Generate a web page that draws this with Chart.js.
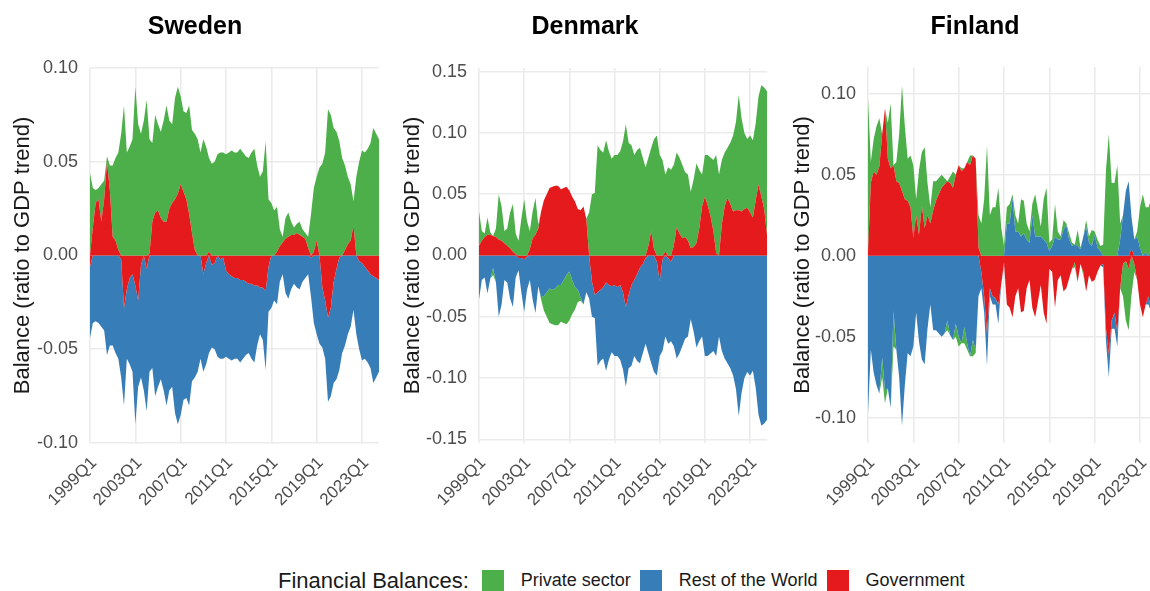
<!DOCTYPE html>
<html>
<head>
<meta charset="utf-8">
<title>Financial balances</title>
<script src="https://cdn.jsdelivr.net/npm/chart.js@4.4.1/dist/chart.umd.min.js"></script>
<style>
  html, body { margin: 0; padding: 0; background: #fff; }
  body { position: relative; width: 1150px; height: 591px; overflow: hidden;
         font-family: "Liberation Sans", Arial, sans-serif; color: #1a1a1a; }
  .panel { position: absolute; top: 0; width: 390px; height: 530px; }
  .panel canvas { position: absolute; left: 0; top: 0; }
  .panel h2 { position: absolute; top: 10px; left: 0; width: 390px; margin: 0;
              text-align: center; font-size: 25px; line-height: 30px; font-weight: bold; color: #000; }
  #legend { position: absolute; left: 278px; top: 569px; height: 23px;
            display: flex; align-items: center; white-space: nowrap; }
  #legend .ttl { font-size: 22px; margin-right: 13px; }
  #legend .key { width: 22px; height: 22px; margin-right: 17px; }
  #legend .lab { font-size: 18px; margin-right: 9px; }
</style>
</head>
<body>

<div class="panel" style="left:0px"><canvas id="cSE" width="390" height="530"></canvas><h2>Sweden</h2></div>
<div class="panel" style="left:390px"><canvas id="cDK" width="390" height="530"></canvas><h2>Denmark</h2></div>
<div class="panel" style="left:780px"><canvas id="cFI" width="390" height="530"></canvas><h2>Finland</h2></div>

<div id="legend">
  <span class="ttl">Financial Balances:</span>
  <span class="key" style="background:#4daf4a"></span><span class="lab">Private sector</span>
  <span class="key" style="background:#377eb8"></span><span class="lab">Rest of the World</span>
  <span class="key" style="background:#e41a1c"></span><span class="lab">Government</span>
</div>

<script>
// quarterly balances, ratio to GDP trend, 1999Q1 .. 2024Q3

// Sweden
var seGov = [
  -0.006, 0.015, 0.028, 0.030,
  0.018, 0.030, 0.050, 0.035,
  0.010, 0.008, 0.003, -0.002,
  -0.028, -0.018, -0.012, -0.010,
  -0.016, -0.024, -0.005, 0.000,
  -0.007, 0.001, 0.018, 0.023,
  0.024, 0.020, 0.018, 0.018,
  0.025, 0.028, 0.030, 0.033,
  0.038, 0.034, 0.030, 0.022,
  0.012, 0.003, 0.000, 0.000,
  -0.010, -0.004, 0.002, -0.005,
  -0.004, 0.000, -0.002, -0.001,
  -0.008, -0.010, -0.011, -0.012,
  -0.012, -0.013, -0.013, -0.014,
  -0.015, -0.015, -0.016, -0.016,
  -0.017, -0.017, -0.019, -0.006,
  0.000, 0.000, 0.002, 0.005,
  0.007, 0.009, 0.010, 0.011,
  0.011, 0.012, 0.011, 0.010,
  0.009, 0.004, -0.001, 0.002,
  0.008, 0.000, -0.017, -0.024,
  -0.033, -0.028, -0.014, -0.007,
  -0.001, 0.000, 0.003, 0.006,
  0.008, 0.016, 0.000, -0.003,
  -0.004, -0.006, -0.008, -0.010,
  -0.011, -0.012, -0.013
];
var sePriv = [
  0.044, 0.021, 0.007, 0.006,
  0.020, 0.010, 0.003, 0.013,
  0.038, 0.044, 0.052, 0.065,
  0.080, 0.055, 0.058, 0.062,
  0.090, 0.070, 0.065, 0.072,
  0.083, 0.061, 0.042, 0.052,
  0.046, 0.046, 0.054, 0.062,
  0.047, 0.042, 0.054, 0.057,
  0.047, 0.043, 0.046, 0.058,
  0.055, 0.062, 0.062, 0.055,
  0.062, 0.058, 0.050, 0.049,
  0.050, 0.054, 0.055, 0.055,
  0.054, 0.055, 0.056, 0.055,
  0.055, 0.057, 0.055, 0.053,
  0.052, 0.055, 0.057, 0.048,
  0.042, 0.045, 0.061, 0.030,
  0.028, 0.024, 0.024, 0.009,
  0.003, 0.011, 0.013, 0.007,
  0.004, 0.005, 0.007, 0.004,
  0.003, 0.006, 0.022, 0.034,
  0.034, 0.047, 0.049, 0.055,
  0.078, 0.075, 0.068, 0.066,
  0.061, 0.052, 0.045, 0.036,
  0.030, 0.013, 0.042, 0.050,
  0.056, 0.055, 0.057, 0.060,
  0.068, 0.065, 0.062
];
var seRow = [
  -0.038, -0.036, -0.035, -0.036,
  -0.038, -0.040, -0.053, -0.048,
  -0.048, -0.052, -0.055, -0.063,
  -0.052, -0.037, -0.046, -0.052,
  -0.074, -0.046, -0.060, -0.072,
  -0.076, -0.062, -0.060, -0.075,
  -0.070, -0.066, -0.072, -0.080,
  -0.072, -0.070, -0.084, -0.090,
  -0.085, -0.077, -0.076, -0.080,
  -0.067, -0.065, -0.062, -0.055,
  -0.052, -0.054, -0.052, -0.044,
  -0.046, -0.054, -0.053, -0.054,
  -0.046, -0.045, -0.045, -0.043,
  -0.043, -0.044, -0.042, -0.039,
  -0.037, -0.040, -0.041, -0.032,
  -0.025, -0.028, -0.042, -0.024,
  -0.028, -0.024, -0.026, -0.014,
  -0.010, -0.020, -0.023, -0.018,
  -0.015, -0.017, -0.018, -0.014,
  -0.012, -0.010, -0.021, -0.036,
  -0.042, -0.047, -0.032, -0.031,
  -0.045, -0.047, -0.054, -0.059,
  -0.060, -0.052, -0.048, -0.042,
  -0.038, -0.029, -0.042, -0.047,
  -0.052, -0.049, -0.049, -0.050,
  -0.057, -0.053, -0.049
];

// Denmark
var dkGov = [
  0.008, 0.012, 0.015, 0.017,
  0.017, 0.016, 0.015, 0.013,
  0.012, 0.010, 0.008, 0.006,
  0.003, 0.001, -0.002, -0.002,
  -0.003, -0.001, 0.005, 0.014,
  0.017, 0.022, 0.036, 0.045,
  0.050, 0.055, 0.056, 0.057,
  0.057, 0.054, 0.055, 0.056,
  0.053, 0.048, 0.044, 0.038,
  0.037, 0.040, 0.030, 0.000,
  -0.021, -0.032, -0.030, -0.028,
  -0.026, -0.022, -0.024, -0.025,
  -0.024, -0.026, -0.024, -0.030,
  -0.042, -0.032, -0.024, -0.020,
  -0.015, -0.010, -0.007, -0.002,
  0.008, 0.020, 0.005, -0.005,
  -0.021, -0.003, 0.003, -0.002,
  -0.005, 0.008, 0.023, 0.018,
  0.014, 0.015, 0.012, 0.006,
  0.007, 0.010, 0.022, 0.040,
  0.048, 0.041, 0.032, 0.020,
  0.002, 0.000, 0.025, 0.040,
  0.047, 0.042, 0.036, 0.037,
  0.037, 0.036, 0.038, 0.039,
  0.035, 0.031, 0.045, 0.058,
  0.048, 0.038, 0.017
];
var dkPriv = [
  0.028, 0.008, 0.003, 0.014,
  0.002, -0.006, 0.007, 0.037,
  0.028, 0.010, 0.014, 0.029,
  0.039, 0.017, 0.012, 0.030,
  0.046, 0.028, 0.015, 0.022,
  0.030, 0.003, -0.002, -0.012,
  -0.020, -0.028, -0.028, -0.030,
  -0.033, -0.030, -0.035, -0.040,
  -0.040, -0.028, -0.018, -0.010,
  -0.003, 0.000, 0.000, 0.035,
  0.050, 0.051, 0.090, 0.086,
  0.084, 0.094, 0.085, 0.079,
  0.082, 0.082, 0.085, 0.093,
  0.107, 0.092, 0.090, 0.082,
  0.086, 0.088, 0.080, 0.072,
  0.072, 0.068, 0.090, 0.098,
  0.082, 0.078, 0.063, 0.072,
  0.070, 0.066, 0.061, 0.062,
  0.060, 0.053, 0.054, 0.046,
  0.055, 0.065, 0.048, 0.026,
  0.034, 0.041, 0.048, 0.058,
  0.080, 0.066, 0.053, 0.044,
  0.041, 0.050, 0.062, 0.072,
  0.094, 0.076, 0.062, 0.056,
  0.063, 0.063, 0.063, 0.072,
  0.091, 0.099, 0.117
];
var dkRow = [
  -0.036, -0.020, -0.018, -0.031,
  -0.019, -0.010, -0.022, -0.050,
  -0.040, -0.020, -0.022, -0.035,
  -0.042, -0.018, -0.010, -0.028,
  -0.043, -0.027, -0.020, -0.036,
  -0.047, -0.025, -0.034, -0.033,
  -0.030, -0.027, -0.028, -0.027,
  -0.024, -0.024, -0.020, -0.016,
  -0.013, -0.020, -0.026, -0.028,
  -0.034, -0.040, -0.030, -0.035,
  -0.029, -0.019, -0.060, -0.058,
  -0.058, -0.072, -0.061, -0.054,
  -0.058, -0.056, -0.061, -0.063,
  -0.065, -0.060, -0.066, -0.062,
  -0.071, -0.078, -0.073, -0.070,
  -0.080, -0.088, -0.095, -0.093,
  -0.061, -0.075, -0.066, -0.070,
  -0.065, -0.074, -0.084, -0.080,
  -0.074, -0.068, -0.066, -0.052,
  -0.062, -0.075, -0.070, -0.066,
  -0.082, -0.082, -0.080, -0.078,
  -0.082, -0.066, -0.078, -0.084,
  -0.088, -0.092, -0.098, -0.109,
  -0.131, -0.112, -0.100, -0.095,
  -0.098, -0.094, -0.108, -0.130,
  -0.139, -0.137, -0.134
];

// Finland
var fiGov = [
  0.002, 0.045, 0.052, 0.050,
  0.055, 0.075, 0.091, 0.060,
  0.054, 0.056, 0.046, 0.045,
  0.040, 0.035, 0.034, 0.030,
  0.011, 0.025, 0.013, 0.031,
  0.017, 0.025, 0.020, 0.028,
  0.034, 0.038, 0.042, 0.044,
  0.046, 0.045, 0.042, 0.050,
  0.056, 0.052, 0.054, 0.058,
  0.056, 0.062, 0.060, 0.005,
  -0.010, -0.025, -0.048, -0.020,
  -0.025, -0.026, -0.030, -0.018,
  -0.004, -0.030, -0.032, -0.038,
  -0.025, -0.020, -0.035, -0.034,
  -0.020, -0.015, -0.032, -0.038,
  -0.028, -0.018, -0.035, -0.042,
  -0.008, -0.010, -0.032, -0.015,
  -0.012, -0.022, -0.020, -0.014,
  -0.008, -0.004, -0.016, -0.005,
  -0.010, -0.022, -0.012, -0.016,
  -0.015, -0.010, -0.006, -0.005,
  -0.045, -0.061, -0.040, -0.035,
  -0.047, -0.020, -0.005, -0.003,
  -0.008, 0.004, -0.005, -0.015,
  -0.030, -0.038, -0.030, -0.025,
  -0.035, -0.028, -0.022
];
var fiPriv = [
  0.095, 0.013, 0.020, 0.030,
  0.030, -0.012, -0.008, 0.022,
  0.040, -0.022, 0.012, 0.030,
  0.065, 0.045, 0.026, 0.032,
  0.045, 0.010, 0.040, 0.033,
  0.050, 0.020, 0.010, 0.018,
  0.012, 0.010, 0.008, 0.004,
  -0.006, 0.004, 0.010, -0.008,
  -0.006, 0.002, -0.010, -0.004,
  0.006, -0.010, -0.002, 0.020,
  0.020, 0.035, 0.068, 0.025,
  0.030, 0.030, 0.042, 0.018,
  0.006, 0.010, 0.012, 0.002,
  0.010, 0.005, 0.023, 0.020,
  0.010, 0.007, 0.007, 0.026,
  0.016, 0.006, 0.025, 0.034,
  0.005, 0.004, 0.020, 0.005,
  0.002, 0.006, 0.001, 0.004,
  0.002, -0.003, 0.010, 0.001,
  -0.002, 0.004, 0.004, 0.010,
  0.002, 0.005, 0.003, 0.007,
  0.053, 0.075, 0.045, 0.045,
  0.056, 0.010, -0.020, -0.037,
  -0.038, -0.024, -0.005, 0.003,
  0.025, 0.038, 0.028, 0.030,
  0.030, 0.025, 0.025
];
var fiRow = [
  -0.097, -0.058, -0.072, -0.080,
  -0.085, -0.063, -0.083, -0.082,
  -0.094, -0.034, -0.058, -0.075,
  -0.105, -0.080, -0.060, -0.062,
  -0.056, -0.035, -0.053, -0.064,
  -0.067, -0.045, -0.030, -0.046,
  -0.046, -0.048, -0.050, -0.048,
  -0.040, -0.049, -0.052, -0.042,
  -0.050, -0.054, -0.044, -0.054,
  -0.062, -0.052, -0.058, -0.025,
  -0.010, -0.010, -0.020, -0.005,
  -0.005, -0.004, -0.012, 0.000,
  -0.002, 0.020, 0.020, 0.036,
  0.015, 0.015, 0.012, 0.014,
  0.010, 0.008, 0.025, 0.012,
  0.012, 0.012, 0.010, 0.008,
  0.003, 0.006, 0.012, 0.010,
  0.010, 0.016, 0.019, 0.010,
  0.006, 0.007, 0.006, 0.004,
  0.012, 0.018, 0.008, 0.006,
  0.013, 0.005, 0.003, -0.002,
  -0.008, -0.014, -0.005, -0.010,
  -0.009, 0.010, 0.025, 0.040,
  0.046, 0.020, 0.010, 0.012,
  0.005, 0.000, 0.002, -0.005,
  0.005, 0.003, -0.003
];

var GREEN = '#4daf4a', BLUE = '#377eb8', RED = '#e41a1c';
var GRID = '#ebebeb';
var tickEvery = 16; // label every 4 years

// category labels 1999Q1, 1999Q2, ...
var quarters = [];
for (var k = 0; k < seGov.length; k++) {
  quarters.push((1999 + Math.floor(k / 4)) + 'Q' + (k % 4 + 1));
}

Chart.defaults.font.family = '"Liberation Sans", Arial, Helvetica, sans-serif';

// ggplot style stacking: positives and negatives stacked apart,
// government nearest zero, then rest of the world, private sector outside
function stackParts(gov, priv, row) {
  var pg = [], pr = [], pp = [], ng = [], nr = [], np = [];
  for (var i = 0; i < gov.length; i++) {
    var a = Math.max(gov[i], 0);
    var b = a + Math.max(row[i], 0);
    var c = b + Math.max(priv[i], 0);
    var d = Math.min(gov[i], 0);
    var e = d + Math.min(row[i], 0);
    var f = e + Math.min(priv[i], 0);
    pg.push(a); pr.push(b); pp.push(c);
    ng.push(d); nr.push(e); np.push(f);
  }
  function ds(data, color, fill) {
    return { data: data, backgroundColor: color, borderColor: 'rgba(0,0,0,0)',
             borderWidth: 0, pointRadius: 0, pointHitRadius: 0, tension: 0, fill: fill };
  }
  return [
    ds(pg, RED, 'origin'), ds(pr, BLUE, '-1'), ds(pp, GREEN, '-1'),
    ds(ng, RED, 'origin'), ds(nr, BLUE, '-1'), ds(np, GREEN, '-1')
  ];
}

function createPanel(canvasId, p) {
  var ctx = document.getElementById(canvasId);
  return new Chart(ctx, {
    type: 'line',
    data: { labels: quarters, datasets: stackParts(p.gov, p.priv, p.row) },
    options: {
      responsive: false,
      animation: false,
      events: [],
      layout: { padding: { top: p.top, right: p.right, bottom: 0, left: 0 } },
      plugins: { legend: { display: false }, tooltip: { enabled: false } },
      scales: {
        x: {
          type: 'category',
          offset: false,
          // ticks without a label are dropped, so the remaining lines are the labelled ones
          grid: { drawTicks: false, lineWidth: 1.6, color: GRID },
          border: { display: false },
          ticks: {
            autoSkip: false, minRotation: 45, maxRotation: 45, padding: 10, labelOffset: 4,
            color: '#4d4d4d', font: { size: 17 },
            callback: function (v, i) { return i % tickEvery === 0 ? quarters[i] : null; }
          },
          afterFit: function (s) { s.height = 530 - 443; }
        },
        y: {
          min: p.yMin, max: p.yMax,
          grid: { color: GRID, lineWidth: 1.6, drawTicks: false },
          border: { display: false },
          ticks: {
            stepSize: 0.05, includeBounds: false, padding: 12,
            color: '#4d4d4d', font: { size: 18 },
            callback: function (v) { return Math.abs(v) < 1e-9 ? '0.00' : v.toFixed(2); }
          },
          title: {
            display: true, text: 'Balance (ratio to GDP trend)',
            color: '#1a1a1a', font: { size: 22 }, padding: { top: 10, bottom: 0 }
          },
          afterFit: function (s) { s.width = p.yWidth; }
        }
      }
    }
  });
}

createPanel('cSE', { gov: seGov, priv: sePriv, row: seRow, yMin: -0.1, yMax: 0.1, yWidth: 90, top: 68, right: 11 });
createPanel('cDK', { gov: dkGov, priv: dkPriv, row: dkRow, yMin: -0.153, yMax: 0.153, yWidth: 89, top: 68, right: 13 });
createPanel('cFI', { gov: fiGov, priv: fiPriv, row: fiRow, yMin: -0.1156, yMax: 0.1166, yWidth: 88, top: 67, right: 13 });
</script>
</body>
</html>
